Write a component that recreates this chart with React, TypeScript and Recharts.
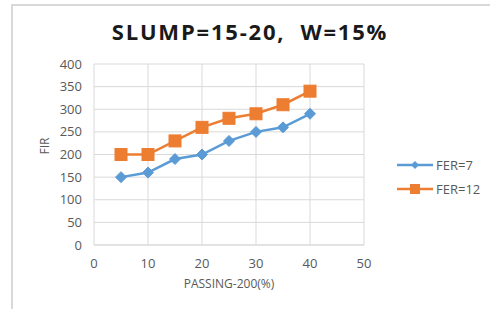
import { LineChart, Line, XAxis, YAxis, CartesianGrid } from 'recharts';

const passing = [5, 10, 15, 20, 25, 30, 35, 40];
const fer7 = [150, 160, 190, 200, 230, 250, 260, 290];
const fer12 = [200, 200, 230, 260, 280, 290, 310, 340];
const xTicks = [0, 10, 20, 30, 40, 50];
const yTicks = [0, 50, 100, 150, 200, 250, 300, 350, 400];

const BLUE = '#5b9bd5';
const ORANGE = '#ed7d31';
const FONT = '"Open Sans", "Liberation Sans", sans-serif';

const data = passing.map((p, i) => ({ p, fer7: fer7[i], fer12: fer12[i] }));

const Diamond = (props: any) => {
  const { cx, cy } = props;
  if (cx == null || cy == null) return null;
  const r = 5.5;
  return <path d={`M${cx},${cy - r}L${cx + r},${cy}L${cx},${cy + r}L${cx - r},${cy}Z`} fill={BLUE} stroke={BLUE} />;
};

const Square = (props: any) => {
  const { cx, cy } = props;
  if (cx == null || cy == null) return null;
  const s = 6;
  return <rect x={cx - s} y={cy - s} width={s * 2} height={s * 2} fill={ORANGE} stroke={ORANGE} />;
};

const legendItems = [
  { name: 'FER=7', color: BLUE, shape: 'diamond' },
  { name: 'FER=12', color: ORANGE, shape: 'square' },
];

// legend kept outside recharts so it doesn't eat plot space
const ChartLegend = () => (
  <div style={{ position: 'absolute', left: 397, top: 153, fontFamily: FONT, fontSize: 13, color: '#595959' }}>
    {legendItems.map((it) => (
      <div key={it.name} style={{ display: 'flex', alignItems: 'center', height: 24 }}>
        <svg width={36} height={14}>
          <line x1={0} y1={7} x2={36} y2={7} stroke={it.color} strokeWidth={2.5} />
          {it.shape === 'diamond' ? (
            <path d="M18,3L22,7L18,11L14,7Z" fill={it.color} />
          ) : (
            <rect x={13} y={2} width={10} height={10} fill={it.color} />
          )}
        </svg>
        <span style={{ marginLeft: 3 }}>{it.name}</span>
      </div>
    ))}
  </div>
);

export default function App() {
  return (
    <div style={{ position: 'absolute', left: 0, top: 0, width: 490, height: 309, background: '#fff', overflow: 'hidden' }}>
      <div style={{ position: 'absolute', left: 11, top: 4, width: 2, height: 305, background: '#d9d9d9' }} />
      <div style={{ position: 'absolute', left: 11, top: 4, width: 479, height: 2, background: '#d9d9d9' }} />
      <div
        style={{
          position: 'absolute',
          left: 0,
          width: 500,
          top: 16,
          textAlign: 'center',
          fontFamily: FONT,
          fontWeight: 700,
          fontSize: 22,
          color: '#1a1a1a',
          letterSpacing: 1.8,
          whiteSpace: 'pre',
        }}
      >
        SLUMP=15-20,  W=15%
      </div>
      <div style={{ position: 'absolute', left: 0, top: 0 }}>
        <LineChart width={490} height={309} data={data} margin={{ top: 64, right: 126, left: 54, bottom: 21 }}>
          <CartesianGrid stroke="#d9d9d9" strokeWidth={1} />
          <XAxis
            dataKey="p"
            type="number"
            domain={[0, 50]}
            ticks={xTicks}
            interval={0}
            axisLine={{ stroke: '#d9d9d9' }}
            tickLine={false}
            tick={{ fill: '#595959', fontSize: 13, fontFamily: FONT }}
            tickMargin={8}
            height={43}
            label={{ value: 'PASSING-200(%)', position: 'insideBottom', offset: 0, fill: '#595959', fontSize: 12, fontFamily: FONT }}
          />
          <YAxis
            type="number"
            domain={[0, 400]}
            ticks={yTicks}
            interval={0}
            axisLine={false}
            tickLine={false}
            width={40}
            tick={{ fill: '#595959', fontSize: 13, fontFamily: FONT }}
            tickMargin={6}
            label={{ value: 'FIR', angle: -90, position: 'insideLeft', offset: -9, fill: '#595959', fontSize: 12, fontFamily: FONT }}
          />
          <Line dataKey="fer7" name="FER=7" stroke={BLUE} strokeWidth={2.5} dot={<Diamond />} isAnimationActive={false} />
          <Line dataKey="fer12" name="FER=12" stroke={ORANGE} strokeWidth={2.5} dot={<Square />} isAnimationActive={false} />
        </LineChart>
      </div>
      <ChartLegend />
    </div>
  );
}
